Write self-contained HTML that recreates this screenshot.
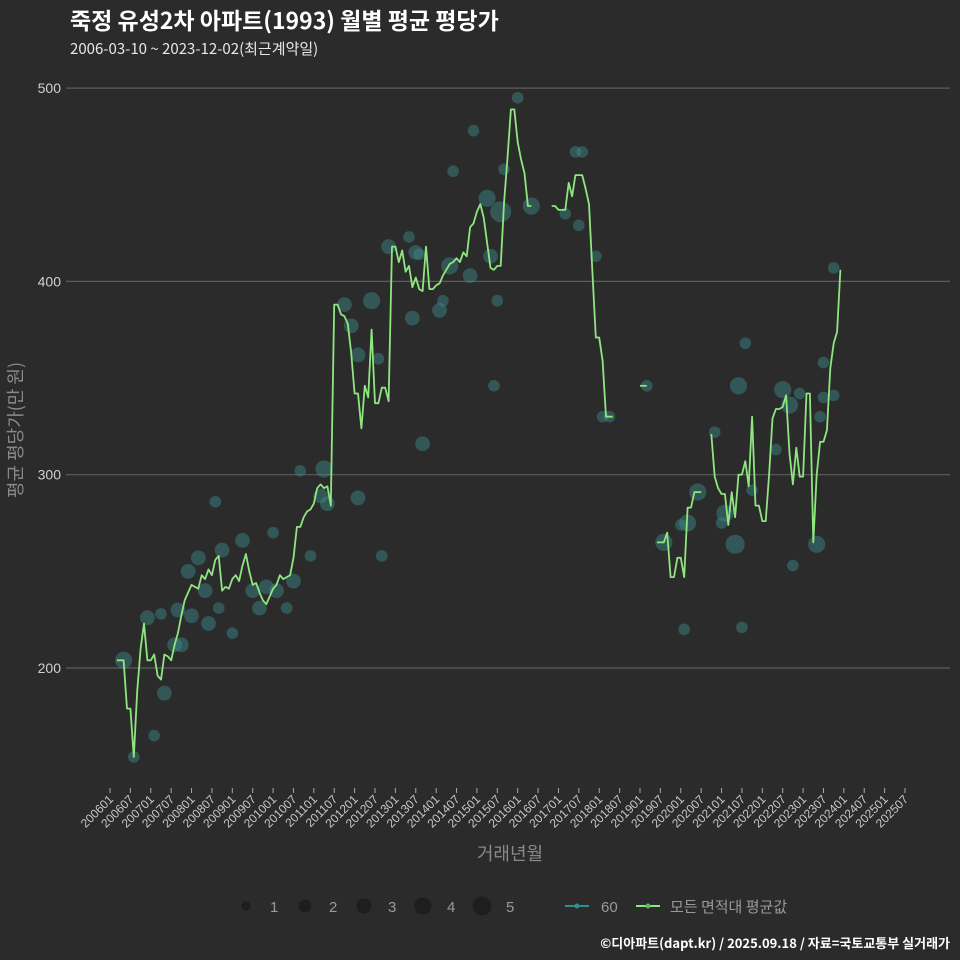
<!DOCTYPE html>
<html><head><meta charset="utf-8">
<style>
html,body{margin:0;padding:0;background:#2b2b2c;}
svg{display:block;font-family:"Liberation Sans","Noto Sans CJK KR",sans-serif;}
</style></head>
<body>
<svg id="chart" width="960" height="960" viewBox="0 0 960 960">
<rect width="960" height="960" fill="#2b2b2c"/>
<text x="70" y="29" fill="#ffffff" font-size="23" font-weight="bold" font-family="Noto Sans CJK KR, sans-serif">죽정 유성2차 아파트(1993) 월별 평균 평당가</text>
<text x="70" y="54" fill="#e8e8e8" font-size="15" font-family="Noto Sans CJK KR, sans-serif">2006-03-10 ~ 2023-12-02(최근계약일)</text>
<g id="grid"></g>
<g id="bubbles"></g>
<g id="line"></g>
<g id="xaxis"></g>
<text x="17" y="430" transform="rotate(-90 17 430)" fill="#8a8a8a" font-size="18" text-anchor="middle" dominant-baseline="middle" font-family="Noto Sans CJK KR, sans-serif">평균 평당가(만 원)</text>
<text x="510" y="860" fill="#8a8a8a" font-size="18" text-anchor="middle" font-family="Noto Sans CJK KR, sans-serif">거래년월</text>
<g id="legend"></g>
<text x="950" y="948" fill="#ffffff" font-size="13" font-weight="bold" text-anchor="end" font-family="Noto Sans CJK KR, sans-serif">©디아파트(dapt.kr) / 2025.09.18 / 자료=국토교통부 실거래가</text>
</svg>
<script>
// monthly average values, index 0 = 2006-01 (null = no trade)
const avgValues = [null,null,204,204,204,179,179,154,188,210,223,204,204,207,196,194,207,206,204,212,218,227,235,239,243,242,241,248,246,251,248,256,258,240,242,241,246,248,245,253,259,250,243,244,239,235,233,237,241,243,248,246,247,248,257,273,273,278,281,282,285,293,295,293,294,284,388,388,383,382,378,363,342,342,324,346,340,375,337,337,345,345,338,418,418,410,416,405,408,397,402,396,395,418,396,396,398,399,403,406,409,410,412,410,415,413,428,430,436,440,433,420,407,406,408,408,441,464,489,489,472,463,456,439,439,null,null,null,null,null,439,439,437,437,437,451,444,455,455,455,448,440,405,371,371,359,330,330,330,null,null,null,null,null,null,null,346,346,346,null,null,265,265,265,270,247,247,257,257,247,283,283,291,291,291,null,null,321,299,293,290,290,274,291,278,300,300,307,294,330,284,284,276,276,300,329,334,334,335,341,311,295,314,299,299,342,342,265,300,317,317,323,355,368,374,406];
// bubbles: month index, value, count
const bubbleMonths = [4,7,11,13,15,16,19,21,20,24,23,26,29,28,32,31,33,36,39,44,42,46,48,49,52,54,56,59,63,64,62,69,71,73,73,77,79,80,82,88,89,90,92,91,97,98,100,101,106,107,111,112,113,114,115,116,120,124,137,139,134,138,143,145,147,158,163,168,169,170,173,178,180,181,184,185,186,187,189,196,198,200,201,203,208,209,210,210,213,213];
const bubbleValues = [204,154,226,165,228,187,212,212,230,227,250,257,223,240,231,286,261,218,266,231,240,242,270,240,231,245,302,258,303,285,289,388,377,362,288,390,360,258,418,423,381,415,316,414,385,390,408,457,403,478,443,413,346,390,436,458,495,439,467,467,435,429,413,330,330,346,265,274,220,275,291,322,275,280,264,346,221,368,292,313,344,336,253,342,264,330,340,358,341,407];
const bubbleCounts = [3,1,2,1,1,2,2,2,2,2,2,2,2,2,1,1,2,1,2,2,2,2,1,2,1,2,1,1,3,2,2,2,2,2,2,3,1,1,2,1,2,2,2,1,2,1,3,1,2,1,3,2,1,1,5,1,1,3,1,1,1,1,1,1,1,1,3,1,1,3,3,1,1,3,4,3,1,1,1,1,3,3,1,1,3,1,1,1,1,1];
const yTicks = [200,300,400,500];
const xTickLabels = [];
for (let y = 2006; y <= 2025; y++) { xTickLabels.push(y + '01'); xTickLabels.push(y + '07'); }

const NS = 'http://www.w3.org/2000/svg';
const xScale = m => 110 + m * (795 / 234);
const yScale = v => 668 - (v - 200) * 1.933;
const rScale = c => 2 + Math.sqrt(c) * 3.8;
function mk(tag, attrs, parent) {
  const e = document.createElementNS(NS, tag);
  for (const k in attrs) e.setAttribute(k, attrs[k]);
  parent.appendChild(e);
  return e;
}
const grid = document.getElementById('grid');
yTicks.forEach(v => {
  const y = yScale(v);
  const l = mk('line', {x1: 66, x2: 950, y1: y, y2: y, stroke: '#5c5c5c', 'stroke-width': 1.2}, grid);
  
  
  const t = mk('text', {x: 61, y: y + 5, fill: '#d0d0d0', 'font-size': 14, 'text-anchor': 'end'}, grid);
  t.textContent = v;
  
  
});
const bub = document.getElementById('bubbles');
bubbleMonths.forEach((m, i) => {
  const c = mk('circle', {cx: xScale(m), cy: yScale(bubbleValues[i]), r: rScale(bubbleCounts[i]), fill: '#3d8f8c', 'fill-opacity': 0.45}, bub);
  
  
});
const lg = document.getElementById('line');
let seg = [];
const segs = [];
avgValues.forEach((v, m) => {
  if (v === null) { if (seg.length) segs.push(seg); seg = []; }
  else seg.push(xScale(m).toFixed(1) + ',' + yScale(v).toFixed(1));
});
if (seg.length) segs.push(seg);
segs.forEach(s => {
  const p = mk('polyline', {points: s.join(' '), fill: 'none', stroke: '#8ee67f', 'stroke-width': 1.8, 'stroke-linejoin': 'round'}, lg);
  
  
});
const xa = document.getElementById('xaxis');
xTickLabels.forEach((lab, i) => {
  const x = xScale(i * 6);
  const tk = mk('line', {x1: x, x2: x, y1: 788, y2: 793, stroke: '#aaaaaa', 'stroke-width': 1}, xa);
  
  
  const t = mk('text', {x: x + 4, y: 800, fill: '#c8c8c8', 'font-size': 12, 'text-anchor': 'end', transform: 'rotate(-45 ' + (x + 4) + ' 800)'}, xa);
  t.textContent = lab;
  
  
});
const leg = document.getElementById('legend');
const legSizes = [1,2,3,4,5];
const legX = [246, 305, 364, 423, 482];
legSizes.forEach((s, i) => {
  const c = mk('circle', {cx: legX[i], cy: 906, r: rScale(s) - 1, fill: '#1e1e1f'}, leg);
  
  
  const t = mk('text', {x: legX[i] + 24, y: 912, fill: '#9a9a9a', 'font-size': 15}, leg);
  t.textContent = s;
  
  
});
const l1 = mk('line', {x1: 565, x2: 589, y1: 906, y2: 906, stroke: '#2f8f8c', 'stroke-width': 2}, leg);


const c1 = mk('circle', {cx: 577, cy: 906, r: 2.5, fill: '#2f8f8c'}, leg);


const t1 = mk('text', {x: 601, y: 912, fill: '#9a9a9a', 'font-size': 15}, leg);
t1.textContent = '60';


const l2 = mk('line', {x1: 636, x2: 660, y1: 906, y2: 906, stroke: '#8ee67f', 'stroke-width': 2}, leg);


const c2 = mk('circle', {cx: 648, cy: 906, r: 2.5, fill: '#5fb85a'}, leg);


const t2 = mk('text', {x: 670, y: 912, fill: '#9a9a9a', 'font-size': 15, 'font-family': 'Noto Sans CJK KR, sans-serif'}, leg);
t2.textContent = '모든 면적대 평균값';


</script>
</body></html>
